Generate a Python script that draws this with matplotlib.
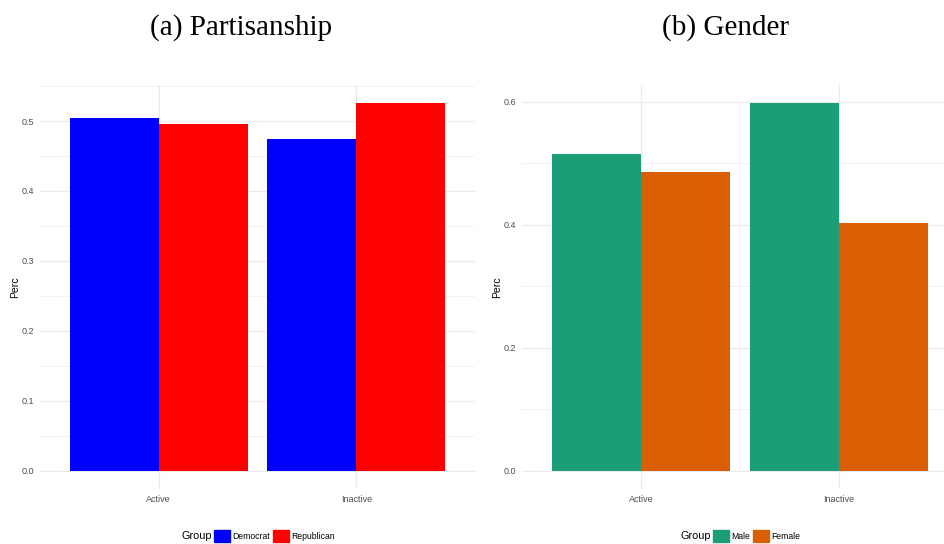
import matplotlib.pyplot as plt
from matplotlib.patches import Patch
import numpy as np

plt.rcParams['font.family'] = ['Liberation Sans', 'DejaVu Sans']

# values per activity status
status = ['Active', 'Inactive']
party_groups = ['Democrat', 'Republican']
party_perc = [[0.504, 0.474],   # Democrat
              [0.496, 0.526]]   # Republican
party_colors = ['#0000FF', '#FF0000']

gender_groups = ['Male', 'Female']
gender_perc = [[0.515, 0.598],  # Male
               [0.485, 0.402]]  # Female
gender_colors = ['#1B9E77', '#D95F02']

GRID = '#EBEBEB'
TICK = '#4D4D4D'


def bar_panel(ax, groups, perc, colors, major, minor):
    x = np.arange(1, len(status) + 1)
    w = 0.45
    for i, (g, vals, c) in enumerate(zip(groups, perc, colors)):
        ax.bar(x + (i - 0.5) * w, vals, width=w, color=c, label=g, zorder=2)
    top = max(max(v) for v in perc)
    ax.set_ylim(-0.05 * top, top * 1.05)
    ax.set_xlim(0.4, len(status) + 0.6)
    ax.set_xticks(x)
    ax.set_xticklabels(status)
    ax.set_yticks(major)
    ax.set_yticklabels(['%.1f' % v for v in major])
    ax.set_yticks(minor, minor=True)
    ax.grid(True, which='major', color=GRID, lw=0.9, zorder=0)
    ax.grid(True, which='minor', axis='y', color=GRID, lw=0.5, zorder=0)
    for s in ax.spines.values():
        s.set_visible(False)
    ax.tick_params(which='both', length=0, labelsize=6.5, labelcolor=TICK, pad=4)
    ax.set_ylabel('Perc', fontsize=7.5, labelpad=1)


fig = plt.figure(figsize=(9.45, 5.44), dpi=100)

ax1 = fig.add_axes([40 / 945, 55 / 544, 435 / 945, 404.5 / 544])
bar_panel(ax1, party_groups, party_perc, party_colors,
          np.arange(0, 0.51, 0.1), np.arange(0.05, 0.56, 0.1))

ax2 = fig.add_axes([522 / 945, 55 / 544, 436 / 945, 404.5 / 544])
bar_panel(ax2, gender_groups, gender_perc, gender_colors,
          np.arange(0, 0.61, 0.2), np.arange(0.1, 0.61, 0.2))

fig.text(241 / 945, 1 - 28 / 544, '(a) Partisanship', family='Liberation Serif',
         fontsize=21, ha='center', va='center')
fig.text(726 / 945, 1 - 28 / 544, '(b) Gender', family='Liberation Serif',
         fontsize=21, ha='center', va='center')

# legends at the bottom, "Group" title drawn to the left of the keys
for ax, groups, colors, tx, lx in [(ax1, party_groups, party_colors, 182, 214),
                                   (ax2, gender_groups, gender_colors, 681, 713)]:
    fig.text(tx / 945, 1 - 536 / 544, 'Group', fontsize=7.8, va='center', ha='left')
    handles = [Patch(color=c, label=g) for g, c in zip(groups, colors)]
    fig.legend(handles=handles, loc='center left', ncol=2, frameon=False,
               bbox_to_anchor=(lx / 945, 1 - 536 / 544), fontsize=6.2,
               handlelength=1.9, handleheight=1.7, handletextpad=0.25,
               columnspacing=0.3, borderpad=0, borderaxespad=0)

fig.savefig('out.png', dpi=100)
